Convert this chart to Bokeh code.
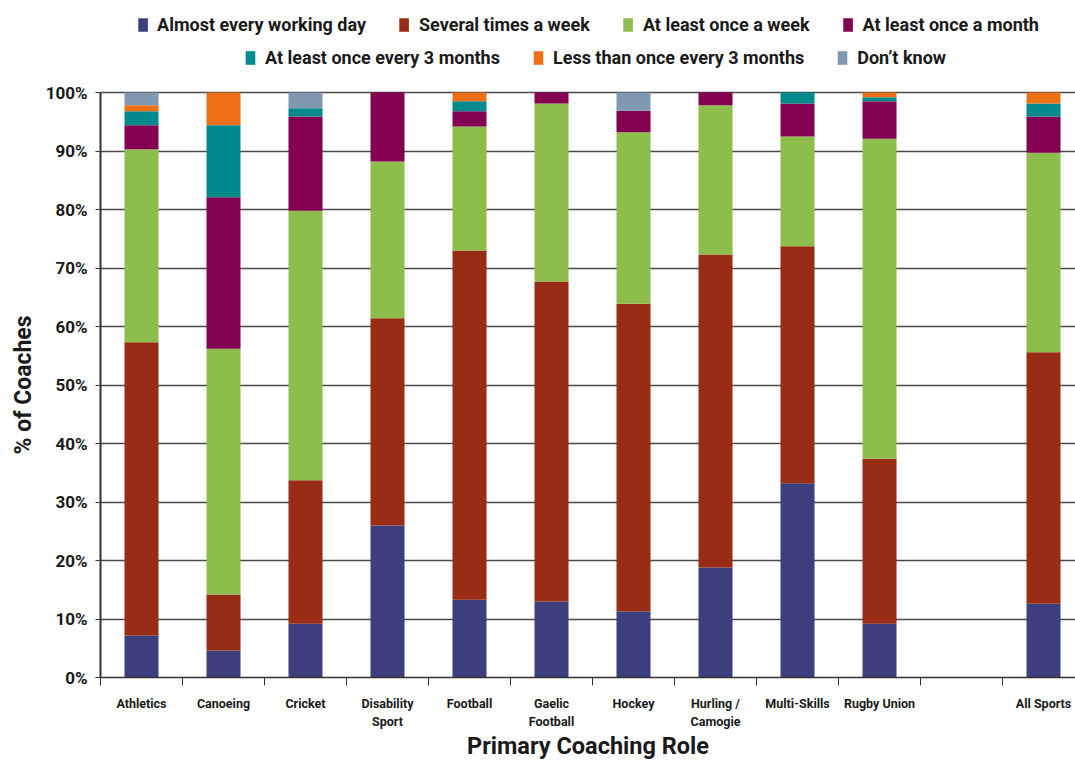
from bokeh.plotting import figure
from bokeh.models import ColumnDataSource, Range1d, FixedTicker, Legend, LegendItem, Title
from bokeh.embed import file_html
from bokeh.resources import INLINE

categories = ["Athletics", "Canoeing", "Cricket", "Disability\nSport", "Football",
              "Gaelic\nFootball", "Hockey", "Hurling /\nCamogie", "Multi-Skills",
              "Rugby Union", "", "All Sports"]

series_names = ["Almost every working day", "Several times a week", "At least once a week",
                "At least once a month", "At least once every 3 months",
                "Less than once every 3 months", "Don\u2019t know"]

almost_every_working_day = [7.2, 4.6, 9.2, 26.0, 13.3, 13.0, 11.3, 18.8, 33.2, 9.2, 0, 12.6]
several_times_a_week = [50.1, 9.6, 24.5, 35.4, 59.7, 54.7, 52.6, 53.5, 40.5, 28.2, 0, 43.0]
at_least_once_a_week = [33.0, 42.0, 46.1, 26.8, 21.2, 30.4, 29.3, 25.5, 18.8, 54.7, 0, 34.1]
at_least_once_a_month = [4.1, 25.9, 16.1, 11.8, 2.6, 1.9, 3.7, 2.2, 5.6, 6.4, 0, 6.2]
at_least_once_every_3_months = [2.4, 12.3, 1.4, 0, 1.7, 0, 0, 0, 1.9, 0.7, 0, 2.2]
less_than_once_every_3_months = [1.0, 5.6, 0, 0, 1.5, 0, 0, 0, 0, 0.8, 0, 1.9]
dont_know = [2.2, 0, 2.7, 0, 0, 0, 3.1, 0, 0, 0, 0, 0]

y_ticks = [0, 10, 20, 30, 40, 50, 60, 70, 80, 90, 100]

colors = ["#3c3e7d", "#982c15", "#8dbd4a", "#840050", "#008a8d", "#ee7016", "#8098b0"]

FONT = "Roboto"

keys = ["s0", "s1", "s2", "s3", "s4", "s5", "s6"]
values = [almost_every_working_day, several_times_a_week, at_least_once_a_week,
          at_least_once_a_month, at_least_once_every_3_months,
          less_than_once_every_3_months, dont_know]

xs = [i + 0.5 for i in range(len(categories))]
data = {"x": xs}
for k, v in zip(keys, values):
    data[k] = v
source = ColumnDataSource(data)

FRAME_H = 669
PLOT_H = 585  # pixels spanned by 0..100 %
y_top = 100 * FRAME_H / PLOT_H

p = figure(frame_width=975, frame_height=FRAME_H, x_range=Range1d(0, 11.89),
           y_range=Range1d(0, y_top),
           output_backend="svg", toolbar_location=None,
           min_border_left=100, min_border_right=0, min_border_top=8, min_border_bottom=0)
p.outline_line_color = None
p.background_fill_color = "white"
p.border_fill_color = "white"

renderers = p.vbar_stack(keys, x="x", width=0.415, source=source, color=colors, line_color=None)

# axes
xa = p.xaxis[0]
xa.ticker = FixedTicker(ticks=xs, minor_ticks=list(range(0, len(categories) + 1)))
xa.major_label_overrides = {x: c for x, c in zip(xs, categories)}
xa.major_tick_line_color = None
xa.major_tick_out = 0
xa.major_tick_in = 0
xa.minor_tick_out = 8
xa.minor_tick_in = 0
xa.minor_tick_line_color = "#333333"
xa.minor_tick_line_width = 1
xa.axis_line_color = "#333333"
xa.axis_line_width = 1.5
xa.major_label_standoff = 10
xa.major_label_text_font = FONT
xa.major_label_text_font_style = "bold"
xa.major_label_text_font_size = "12.5px"
xa.major_label_text_color = "#1a1a1a"
xa.axis_label = "Primary Coaching Role"
xa.axis_label_text_font = FONT
xa.axis_label_text_font_style = "bold"
xa.axis_label_text_font_size = "23.5px"
xa.axis_label_text_color = "#1a1a1a"
xa.axis_label_standoff = 0

ya = p.yaxis[0]
ya.ticker = FixedTicker(ticks=y_ticks, minor_ticks=[])
ya.bounds = (0, 100)
ya.major_label_overrides = {t: f"{t}%" for t in y_ticks}
ya.major_tick_out = 5
ya.major_tick_in = 0
ya.major_tick_line_color = "#333333"
ya.axis_line_color = "#333333"
ya.axis_line_width = 2
ya.major_label_standoff = 8
ya.major_label_text_font = FONT
ya.major_label_text_font_style = "bold"
ya.major_label_text_font_size = "17px"
ya.major_label_text_color = "#1a1a1a"

# y-axis title, centred on the 0-100 % span of the axis
p.add_layout(Title(text="% of Coaches", align="left", offset=223, standoff=12,
                   text_font=FONT, text_font_style="bold", text_font_size="23px",
                   text_color="#1a1a1a"), "left")

p.xgrid.grid_line_color = None
p.ygrid.ticker = FixedTicker(ticks=y_ticks)
p.ygrid.grid_line_color = "#4a4a4a"
p.ygrid.grid_line_width = 1.5

items = [LegendItem(label=n, renderers=[r]) for n, r in zip(series_names, renderers)]


def make_legend(its, location, margin):
    lg = Legend(items=its, orientation="horizontal", location=location,
                glyph_width=12, glyph_height=17, label_height=17,
                label_text_font=FONT, label_text_font_style="bold",
                label_text_font_size="18px", label_text_color="#1a1a1a",
                spacing=32, label_standoff=9, padding=0, margin=margin,
                border_line_color=None, background_fill_alpha=0)
    return lg


p.add_layout(make_legend(items[:4], "top_center", 6))
p.add_layout(make_legend(items[4:], (144, 609), 0))

open("out.html", "w").write(file_html(p, INLINE))
